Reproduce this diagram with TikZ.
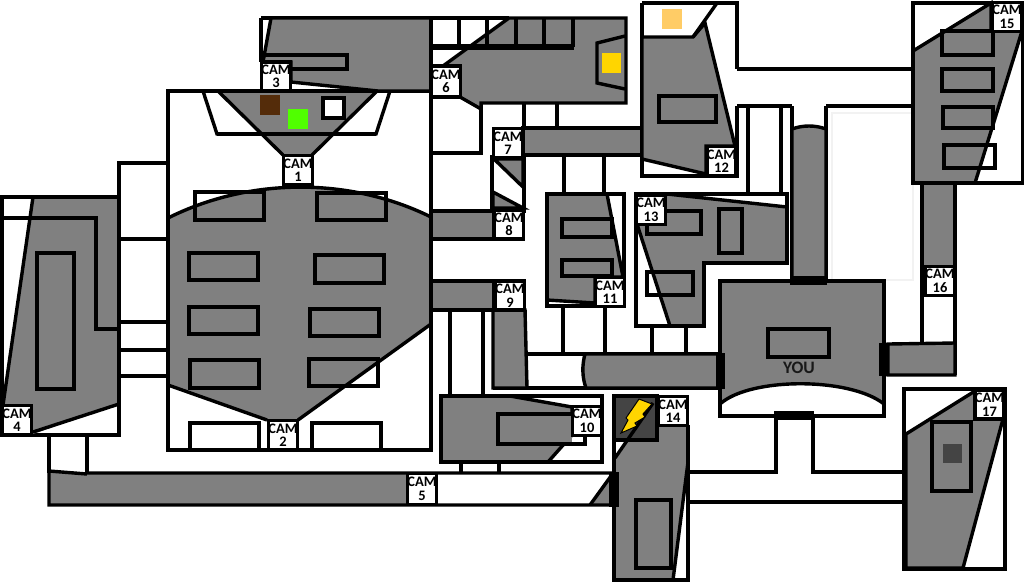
\documentclass[tikz,border=0pt]{standalone}
\usepackage{fontspec}
\setmainfont{Carlito}[BoldFont={Carlito Bold}]
\definecolor{roomgray}{HTML}{808080}
\definecolor{darkgray}{HTML}{444444}
\newcommand\camtext[1]{CAM\\#1}
\tikzset{
  wall/.style={draw=black,line width=3.4pt,line join=miter},
  room/.style={fill=roomgray,draw=black,line width=3.4pt,line join=miter},
  patch/.style={fill=roomgray,draw=none},
  door/.style={fill=black,draw=none},
  cam/.style={draw=black,line width=3.4pt,fill=white,rectangle,inner sep=0pt,minimum width=29pt,minimum height=29pt,align=center,font=\fontsize{14.5}{13.5}\selectfont\bfseries},
}
\begin{document}
\begin{tikzpicture}[x=1pt,y=-1pt]
\path[use as bounding box,fill=white] (0,0) rectangle (1024,582);
% faint rectangle
\draw[draw=black!5,line width=2pt] (832,113) rectangle (913,280);
% corridors (outlines only)
\draw[wall] (119,163) rectangle (168,239);
\draw[wall] (119,239) -- (119,376) -- (168,376);
\draw[wall] (119,322) -- (168,322) (119,350) -- (168,350);
\draw[wall] (49,435) -- (49,473) (87,435) -- (87,473);
\draw[wall] (524,103) -- (524,128) (557,103) -- (557,128);
\draw[wall] (564,155) -- (564,194) (604,155) -- (604,194);
\draw[wall] (563,306) -- (563,353) (605,306) -- (605,353);
\draw[wall] (652,326) -- (652,353) (686,326) -- (686,353);
\draw[wall] (450,310) -- (450,396) (483,310) -- (483,396);
\draw[wall] (461,462) -- (461,473) (499,462) -- (499,473);
\draw[wall] (748,106) -- (748,194) (781,106) -- (781,194);
\draw[wall] (737,69) -- (913,69);
\draw[wall] (737,106) -- (792,106) (826,106) -- (913,106);
\draw[wall] (689,472) -- (776,472) -- (776,417) (813,417) -- (813,472) -- (904,472);
\draw[wall] (689,502) -- (904,502);
% CAM 4 room
\draw[wall] (2,197) rectangle (119,435);
\fill[patch] (33,197) -- (119,197) -- (119,404) -- (33,434) -- (3,405) -- cycle;
\draw[wall] (33,197) -- (3,405) (119,404) -- (33,432);
\draw[wall] (2,197) -- (119,197) -- (119,404);
\draw[wall] (2,218) -- (96,218) -- (96,329) -- (119,329);
\draw[wall] (37,253) rectangle (74,389);
% Main room
\draw[wall] (168,91) rectangle (431,450);
\draw[wall] (203,91) -- (217,134) -- (376,134) -- (390,91);
\fill[patch] (218,91) -- (283,155) -- (312,155) -- (377,91) -- cycle;
\draw[wall] (218,91) -- (283,155) (312,155) -- (377,91);
\draw[wall] (217,134) -- (376,134) (168,91) -- (431,91);
\fill[draw=none,fill=roomgray] (168,218) .. controls (250,177) and (350,177) .. (431,217) -- (431,324) -- (298,420) -- (267,420) -- (168,385) -- cycle;
\draw[wall] (168,218) .. controls (250,177) and (350,177) .. (431,217) (431,324) -- (298,420) (267,420) -- (168,385);
\draw[wall] (168,91) -- (168,450) -- (431,450) -- (431,91);
\foreach \a/\b/\c/\d in {195/192/264/220,317/193/386/220,189/253/258/280,315/255/384/283,189/307/258/334,310/309/379/336,190/360/259/388,309/359/378/386,190/423/259/450,312/423/381/450,323/98/344/118}
  \draw[wall] (\a,\b) rectangle (\c,\d);
\fill[fill=white] (324.7,99.7) rectangle (342.3,116.3);
\fill[fill=white] (191.7,424.7) rectangle (257.3,448.3);
\fill[fill=white] (313.7,424.7) rectangle (379.3,448.3);
\fill[fill={rgb,255:red,84;green,44;blue,10}] (260,95) rectangle (280,115);
\fill[fill={rgb,255:red,80;green,255;blue,0}] (288,109) rectangle (308,129);
% CAM 3 room
\draw[wall] (261,18) -- (431,18) -- (431,91);
\draw[wall] (261,18) -- (261,62);
\filldraw[room] (271,18) -- (431,18) -- (431,91) -- (378,91) -- (291,82) -- (291,62) -- (263,62) -- cycle;
\draw[wall] (263,55) -- (347,55) -- (347,69) -- (291,69);
% CAM 6 room
\draw[wall] (431,18) -- (431,153) -- (481,153) -- (481,103);
\filldraw[room] (509,18) -- (626,18) -- (626,103) -- (481,103) -- (481,109) -- (460,97) -- (460,66) -- (443,66) -- cycle;
\draw[wall] (431,18) -- (509,18);
\draw[draw=black,line width=6pt] (431,47) -- (574,47);
\foreach \a in {459,487,516,544,573} \draw[wall] (\a,18) -- (\a,47);
\draw[wall] (625,36) -- (597,43) -- (597,83) -- (625,89);
\fill[fill={rgb,255:red,255;green,213;blue,0}] (602,53) rectangle (621,73);
% CAM 7, 8, 9
\filldraw[room] (523,128) rectangle (642,155);
\draw[wall] (492,157) rectangle (524,211);
\filldraw[room] (494,159) -- (523,159) -- (523,187) -- cycle;
\filldraw[room] (493,192) -- (523,208) -- (493,208) -- cycle;
\draw[wall] (492,157) rectangle (524,211);
\filldraw[room] (431,211) rectangle (494,239);
\filldraw[room] (431,281) rectangle (494,310);
% lower passage
\draw[wall] (525,310) -- (525,354) -- (720,354) (493,388) -- (720,388);
\filldraw[room] (493,310) -- (525,310) -- (527,388) -- (493,388) -- cycle;
\filldraw[room] (720,354) -- (585,354) .. controls (582,365) and (582,377) .. (586,388) -- (720,388) -- cycle;
% CAM 10 room
\draw[wall] (441,396) rectangle (602,462);
\filldraw[room] (441,396) -- (510,396) -- (572,407) -- (572,435) -- (548,462) -- (441,462) -- cycle;
\draw[wall] (498,414) rectangle (585,444);
\fill[patch] (500,416) rectangle (572,442);
\draw[wall] (441,396) rectangle (602,462);
% CAM 5 corridor
\fill[patch] (49,470) -- (87,474) -- (407,474) -- (407,505) -- (49,505) -- cycle;
\fill[patch] (590,505) -- (612,475) -- (612,505) -- cycle;
\draw[wall] (590,505) -- (611,476);
\draw[wall] (49,471) -- (87,474) (87,473) -- (612,473) (49,435) -- (49,505) -- (612,505);
% CAM 14 room
\fill[patch] (614,462) -- (629,440) -- (657,440) -- (657,425) -- (688,425) -- (688,462) -- (673,580) -- (614,580) -- cycle;
\draw[wall] (688,462) -- (673,580);
\draw[wall] (614,440) -- (614,580) -- (688,580) -- (688,425);
\filldraw[fill=darkgray,draw=black,line width=3.4pt] (614,396) rectangle (657,440);
\draw[wall] (615,458) -- (653,403);
\draw[wall] (636,500) rectangle (671,568);
\fill[door] (609,472) rectangle (619,507);
\filldraw[fill={rgb,255:red,255;green,213;blue,0},draw=black,line width=1pt] (639,399) -- (652,404) -- (643,414) -- (645,417) -- (635,423) -- (637,426) -- (621,433) -- (628,420) -- (626,418) -- cycle;
% CAM 11 room
\draw[wall] (547,194) rectangle (624,306);
\filldraw[room] (547,194) -- (607,194) -- (623,277) -- (595,277) -- (595,303) -- (547,300) -- cycle;
\draw[wall] (562,219) rectangle (612,237);
\draw[wall] (562,260) rectangle (612,276);
\draw[wall] (547,194) -- (547,306) -- (624,306) -- (624,194) -- (547,194);
% CAM 12 room
\draw[wall] (642,3) -- (737,3) -- (737,69) (737,106) -- (737,176) -- (642,176) -- (642,3);
\filldraw[room] (642,37) -- (693,37) -- (705,23) -- (735,146) -- (706,146) -- (706,174) -- (642,159) -- cycle;
\draw[wall] (693,37) -- (717,3);
\draw[wall] (659,96) rectangle (716,122);
\fill[fill={rgb,255:red,255;green,204;blue,102}] (662,9) rectangle (682,29);
% CAM 13 room
\draw[wall] (636,194) -- (787,194) -- (787,263) -- (704,263) -- (704,326) -- (636,326) -- cycle;
\filldraw[room] (667,194) -- (787,207) -- (787,263) -- (704,263) -- (704,326) -- (670,326) -- (637,224) -- cycle;
\draw[wall] (647,211) rectangle (701,234);
\draw[wall] (719,209) rectangle (742,253);
\draw[wall] (647,272) rectangle (693,295);
\draw[wall] (636,194) -- (787,194) -- (787,263) -- (704,263) -- (704,326) -- (636,326) -- cycle;
% YOU room and corridor
\draw[wall] (792,106) -- (792,281) (826,106) -- (826,281);
\filldraw[room] (792,129) .. controls (803,125) and (815,125) .. (826,129) -- (826,281) -- (792,281) -- cycle;
\draw[wall] (720,281) rectangle (884,416);
\filldraw[room] (720,281) -- (884,281) -- (884,404) .. controls (850,377) and (750,377) .. (720,404) -- cycle;
\draw[wall] (768,329) rectangle (829,357);
\draw[wall] (720,281) rectangle (884,416);
\node[font=\fontsize{17.5}{18}\selectfont\bfseries,text=black!90] (you) at (799,368) {YOU};
\fill[door] (716,353) rectangle (725,389);
\fill[door] (790,276) rectangle (827,285);
\fill[door] (879,343) rectangle (888,376);
\fill[door] (774,411) rectangle (814,420);
% CAM 16 corridor
\draw[wall] (922,183) -- (922,344) (955,183) -- (955,375);
\filldraw[room] (922,183) rectangle (955,267);
\filldraw[room] (888,344) -- (955,343) -- (955,375) -- (888,375) -- cycle;
% CAM 15 room
\draw[wall] (913,3) rectangle (1023,183);
\filldraw[room] (913,51) -- (991,3) -- (991,31) -- (1022,31) -- (975,183) -- (913,183) -- cycle;
\draw[wall] (942,31) rectangle (993,55);
\draw[wall] (942,69) rectangle (993,91);
\draw[wall] (943,107) rectangle (993,128);
\draw[wall] (944,145) rectangle (995,168);
\draw[wall] (913,3) rectangle (1023,183);
% CAM 17 room
\draw[wall] (904,389) rectangle (1005,569);
\filldraw[room] (906,434) -- (975,391) -- (975,419) -- (1003,419) -- (963,568) -- (906,568) -- cycle;
\draw[wall] (932,422) rectangle (971,491);
\fill[fill=darkgray] (943,444) rectangle (962,463);
\draw[wall] (904,389) rectangle (1005,569);
% cam labels
\node[cam] (c1) at (298,170) {\camtext{1}};
\node[cam] (c2) at (283,435) {\camtext{2}};
\node[cam] (c3) at (276,76.5) {\camtext{3}};
\node[cam] (c4) at (17,420) {\camtext{4}};
\node[cam,minimum height=31pt] (c5) at (422,489) {\camtext{5}};
\node[cam,minimum height=31pt] (c6) at (446,81.5) {\camtext{6}};
\node[cam] (c7) at (508,143) {\camtext{7}};
\node[cam] (c8) at (509,224.5) {\camtext{8}};
\node[cam] (c9) at (510,295.5) {\camtext{9}};
\node[cam] (c10) at (587,421) {\camtext{10}};
\node[cam] (c11) at (610,292) {\camtext{11}};
\node[cam] (c12) at (721.5,161) {\camtext{12}};
\node[cam] (c13) at (651,210) {\camtext{13}};
\node[cam] (c14) at (673,411) {\camtext{14}};
\node[cam] (c15) at (1007,17) {\camtext{15}};
\node[cam] (c16) at (940,281) {\camtext{16}};
\node[cam] (c17) at (989.5,404.5) {\camtext{17}};
\end{tikzpicture}
\end{document}
